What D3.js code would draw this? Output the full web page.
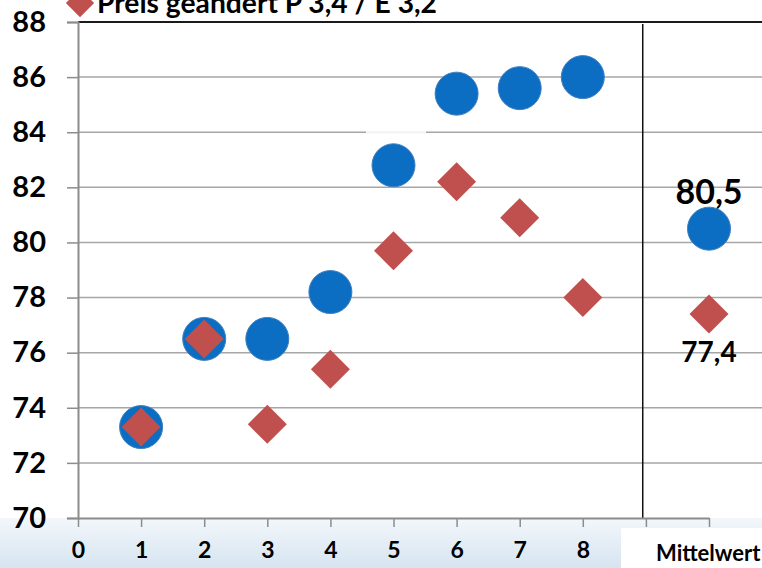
<!DOCTYPE html>
<html>
<head>
<meta charset="utf-8">
<script src="https://cdn.jsdelivr.net/npm/d3@7"></script>
<style>
  body { margin: 0; background: #fff; }
  svg { display: block; font-family: Lato, "Open Sans", sans-serif; }
</style>
</head>
<body>
<div id="chart"></div>
<script>
// data
var xCats = [1, 2, 3, 4, 5, 6, 7, 8];
var blueVals = [73.3, 76.5, 76.5, 78.2, 82.8, 85.4, 85.6, 86.0];
var redVals = [73.3, 76.5, 73.4, 75.4, 79.7, 82.2, 80.9, 78.0];
var meanX = 10;
var meanBlue = 80.5;
var meanRed = 77.4;
var yTicks = [70, 72, 74, 76, 78, 80, 82, 84, 86, 88];
var xTicks = [0, 1, 2, 3, 4, 5, 6, 7, 8, 9, 10];
var legendText = "Preis geändert P 3,4 / E 3,2";
var meanLabel = "Mittelwert";

var W = 762, H = 568;

var svg = d3.select("#chart")
  .append("svg")
    .attr("width", W)
    .attr("height", H);

var x = d3.scaleLinear().domain([0, 10]).range([78, 709]);
var y = d3.scaleLinear().domain([70, 88]).range([518, 22]);

// background: white plot, bluish strip at the bottom
var defs = svg.append("defs");
var grad = defs.append("linearGradient")
    .attr("id", "bg").attr("x1", 0).attr("y1", 0).attr("x2", 0).attr("y2", 1);
grad.append("stop").attr("offset", "0%").attr("stop-color", "#f3f7fb");
grad.append("stop").attr("offset", "100%").attr("stop-color", "#d6e4f0");
svg.append("rect")
    .attr("x", 0).attr("y", 518).attr("width", W).attr("height", H - 518)
    .attr("fill", "url(#bg)");

// gridlines
svg.append("g")
  .selectAll("line")
  .data(yTicks.slice(1, -1))
  .enter()
  .append("line")
    .attr("x1", x(0)).attr("x2", W)
    .attr("y1", function(d) { return y(d); })
    .attr("y2", function(d) { return y(d); })
    .attr("stroke", "#a6a6a6")
    .attr("stroke-width", 1.5);

// little white patch over the 84 line
svg.append("line")
    .attr("x1", 366).attr("x2", 426)
    .attr("y1", y(84)).attr("y2", y(84))
    .attr("stroke", "#f4f4f4").attr("stroke-width", 2.5);

// top border line
svg.append("line")
    .attr("x1", x(0)).attr("x2", W)
    .attr("y1", y(88)).attr("y2", y(88))
    .attr("stroke", "#1a1a1a").attr("stroke-width", 2);

// separator before the mean
svg.append("line")
    .attr("x1", x(8.95)).attr("x2", x(8.95))
    .attr("y1", y(88) + 2).attr("y2", y(70))
    .attr("stroke", "#111").attr("stroke-width", 1.5);

// axes
var yAxis = svg.append("g")
    .attr("transform", "translate(" + x(0) + ",0)")
    .call(d3.axisLeft(y).tickValues(yTicks).tickSize(11).tickPadding(21));
yAxis.select(".domain").attr("stroke", "#8c8c8c").attr("stroke-width", 2);
yAxis.selectAll(".tick line").attr("stroke", "#8c8c8c").attr("stroke-width", 1.5);
yAxis.selectAll("text")
    .attr("font-size", 29).attr("font-weight", "bold").attr("fill", "#000")
    .attr("font-family", "Lato");

var xAxis = svg.append("g")
    .attr("transform", "translate(0," + y(70) + ")")
    .call(d3.axisBottom(x).tickValues(xTicks).tickSize(9).tickSizeOuter(0)
      .tickFormat(function(d) { return d <= 8 ? d : ""; }).tickPadding(15));
xAxis.select(".domain").attr("stroke", "#8c8c8c").attr("stroke-width", 2);
xAxis.selectAll(".tick line").attr("stroke", "#8c8c8c").attr("stroke-width", 1.5);
xAxis.selectAll("text")
    .attr("font-size", 23).attr("font-weight", "bold").attr("fill", "#000")
    .attr("font-family", "Lato");

// white box for the mean category label
svg.append("rect")
    .attr("x", 621).attr("y", 528).attr("width", W - 621).attr("height", H - 528)
    .attr("fill", "#fff");
svg.append("text")
    .attr("x", 656).attr("y", 561)
    .attr("font-size", 22).attr("font-weight", "bold")
    .text(meanLabel);

// blue circles
var blueData = xCats.map(function(c, i) { return [c, blueVals[i]]; });
blueData.push([meanX, meanBlue]);
svg.append("g")
  .selectAll("circle")
  .data(blueData)
  .enter()
  .append("circle")
    .attr("cx", function(d) { return x(d[0]); })
    .attr("cy", function(d) { return y(d[1]); })
    .attr("r", 21.5)
    .attr("fill", "#0b6ec3")
    .attr("stroke", "#3f7fc0")
    .attr("stroke-width", 1);

// red diamonds
var redData = xCats.map(function(c, i) { return [c, redVals[i]]; });
redData.push([meanX, meanRed]);
var diamond = d3.symbol().type(d3.symbolSquare).size(760);
svg.append("g")
  .selectAll("path")
  .data(redData)
  .enter()
  .append("path")
    .attr("d", diamond)
    .attr("transform", function(d) {
      return "translate(" + x(d[0]) + "," + y(d[1]) + ") rotate(45)";
    })
    .attr("fill", "#c0504d");

// mean labels
svg.append("text")
    .attr("x", x(meanX)).attr("y", y(meanBlue) - 25)
    .attr("text-anchor", "middle")
    .attr("font-size", 34).attr("font-weight", "bold")
    .text(String(meanBlue).replace(".", ","));
svg.append("text")
    .attr("x", x(meanX)).attr("y", y(meanRed) + 48)
    .attr("text-anchor", "middle")
    .attr("font-size", 28).attr("font-weight", "bold")
    .text(String(meanRed).replace(".", ","));

// legend (cut at the top)
svg.append("path")
    .attr("d", d3.symbol().type(d3.symbolSquare).size(400))
    .attr("transform", "translate(80,3) rotate(45)")
    .attr("fill", "#c0504d");
svg.append("text")
    .attr("x", 97).attr("y", 13)
    .attr("font-size", 28).attr("font-weight", "bold")
    .attr("textLength", 340).attr("lengthAdjust", "spacingAndGlyphs")
    .text(legendText);
</script>
</body>
</html>
